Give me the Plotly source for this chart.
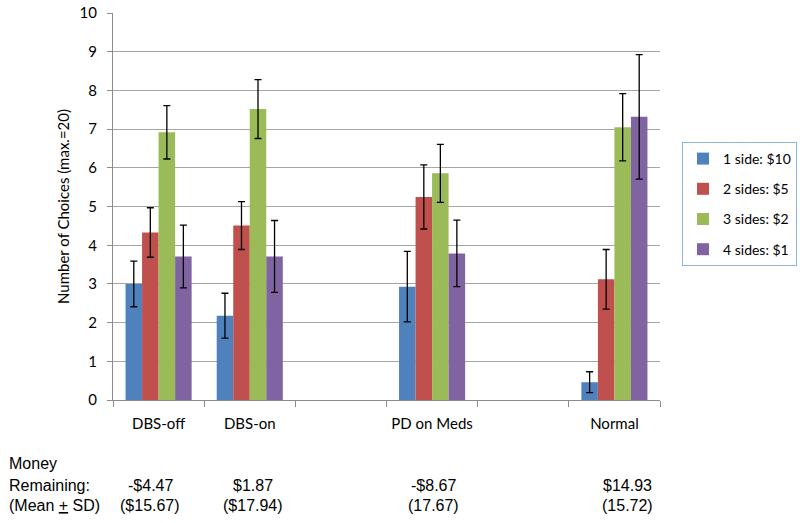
import plotly.graph_objects as go

categories = ["DBS-off", "DBS-on", " ", "PD on Meds", "  ", "Normal"]
series_names = ["1 side: $10", "2 sides: $5", "3 sides: $2", "4 sides: $1"]
colors = ["#4F81BD", "#C0504D", "#9BBB59", "#8064A2"]

side1 = [3.00, 2.18, None, 2.93, None, 0.46]
side2 = [4.33, 4.51, None, 5.25, None, 3.12]
side3 = [6.92, 7.52, None, 5.86, None, 7.05]
side4 = [3.71, 3.71, None, 3.79, None, 7.32]

err1 = [0.59, 0.58, None, 0.91, None, 0.27]
err2 = [0.64, 0.62, None, 0.83, None, 0.77]
err3 = [0.69, 0.76, None, 0.75, None, 0.87]
err4 = [0.81, 0.93, None, 0.86, None, 1.61]

y_ticks = [0, 1, 2, 3, 4, 5, 6, 7, 8, 9, 10]

money_mean = ["-$4.47", "$1.87", "-$8.67", "$14.93"]
money_sd = ["($15.67)", "($17.94)", "(17.67)", "(15.72)"]
money_x = [150, 253, 433, 627]
left_labels = ["Money", "Remaining:", "(Mean <u>+</u> SD)"]

values = [side1, side2, side3, side4]
errors = [err1, err2, err3, err4]

fig = go.Figure()
for i in range(4):
    fig.add_trace(go.Bar(
        x=categories, y=values[i], name=series_names[i],
        marker=dict(color=colors[i], line=dict(width=0)),
        error_y=dict(type="data", array=errors[i], visible=True,
                     color="black", thickness=1.3, width=3.5),
        legendgroup=str(i),
    ))

W, H = 800, 523
sL, sR, sT, sB = 113, 660, 13, 400  # plot area in pixels
L, T, R, B = sL, sT, W - sR, H - sB
pw = W - L - R
ph = H - T - B

def px_x(x):
    return (x - L) / pw

def px_y(y):
    return (H - B - y) / ph

fig.update_layout(
    width=W, height=H,
    margin=dict(l=L, r=R, t=T, b=B, pad=0, autoexpand=False),
    paper_bgcolor="white", plot_bgcolor="white",
    barmode="group", bargap=0.275, bargroupgap=0,
    font=dict(family="Lato, Carlito, sans-serif", size=15, color="black"),
    showlegend=True,
    legend=dict(x=px_x(682), y=px_y(142), xanchor="left", yanchor="top",
                xref="paper", yref="paper",
                bordercolor="#8EB4E3", borderwidth=1, bgcolor="white",
                font=dict(size=14), traceorder="grouped", tracegroupgap=9,
                itemwidth=30),
    xaxis=dict(type="category", categoryorder="array", categoryarray=categories,
               showline=True, linecolor="#8c8c8c", linewidth=1, automargin=False,
               ticks="outside", tickson="boundaries", ticklen=6, tickcolor="#8c8c8c",
               showgrid=False, tickfont=dict(size=15), tickangle=0,
               ticklabelstandoff=10),
    yaxis=dict(range=[0, 10.004], tickmode="array", tickvals=y_ticks,
               showline=True, linecolor="#8c8c8c", linewidth=1,
               ticks="outside", ticklen=5, tickcolor="#8c8c8c", automargin=False,
               showgrid=True, gridcolor="#a6a6a6", gridwidth=1, zeroline=False,
               tickfont=dict(size=15), ticklabelstandoff=7,
               title=dict(text="Number of Choices (max.=20)", font=dict(size=15), standoff=6)),
)

narrow = "Liberation Sans Narrow, Arial Narrow, Liberation Sans, sans-serif"
rows_y = [463, 485, 506]
for txt, yy in zip(left_labels, rows_y):
    fig.add_annotation(text=txt, x=px_x(7), y=px_y(yy), xref="paper", yref="paper",
                       xanchor="left", yanchor="middle", showarrow=False,
                       font=dict(family=narrow, size=16, color="black"))

for xx, m, s in zip(money_x, money_mean, money_sd):
    for txt, yy in ((m, rows_y[1]), (s, rows_y[2])):
        fig.add_annotation(text=txt, x=px_x(xx), y=px_y(yy),
                           xref="paper", yref="paper", xanchor="center", yanchor="middle",
                           showarrow=False, font=dict(family=narrow, size=16, color="black"))

fig.write_html("out.html", config={"displayModeBar": False},
               post_script="document.body.style.margin='0px';document.body.style.overflow='hidden';")
